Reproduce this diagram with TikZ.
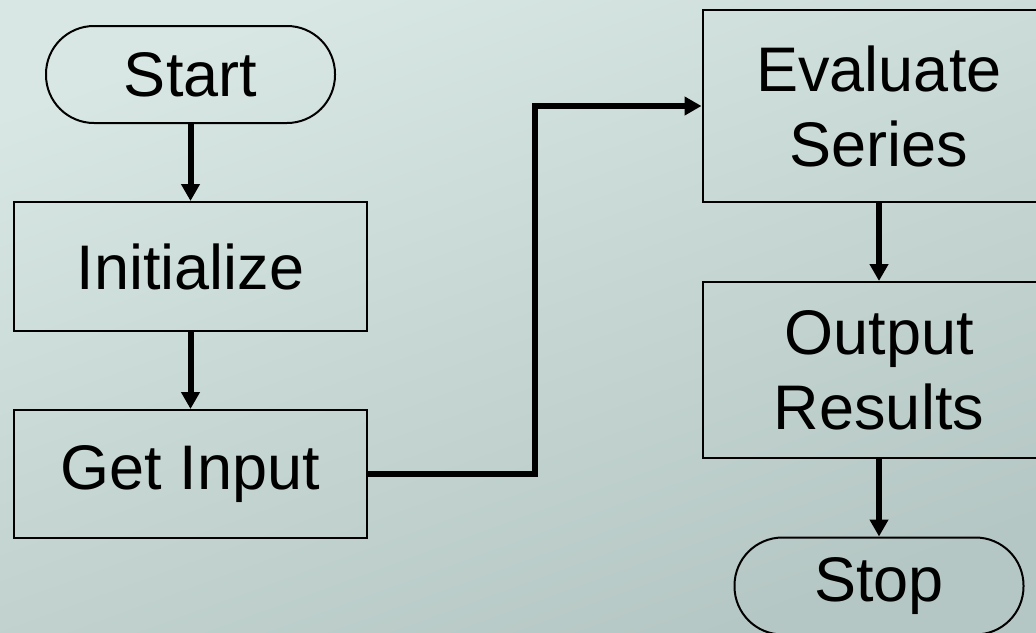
\documentclass[tikz,border=0pt]{standalone}
\usepackage{fontspec}
\setmainfont{Liberation Sans}
\usepackage{xcolor}
\usepackage{tikz}
\usetikzlibrary{arrows.meta,positioning}

\definecolor{bgtop}{RGB}{216,231,227}
\definecolor{bgbot}{RGB}{181,199,196}

\tikzset{
  stepbox/.style={draw=black, line width=1pt, minimum width=176.5pt, align=center,
    font=\fontsize{31.5}{37.5}\selectfont},
  termbox/.style={stepbox, minimum width=144.5pt, minimum height=48.5pt, rounded corners=24pt},
  flow/.style={line width=3pt, -{Triangle[length=8.5pt,width=9pt]}}
}

\begin{document}
\begin{tikzpicture}[x=0.5pt, y=-0.5pt]

% Background
\shade[shading=axis, top color=bgtop, bottom color=bgbot, shading angle=20]
  (0,0) rectangle (1036,632);
\useasboundingbox (0,0) rectangle (1036,632);

% Left column
\node[termbox] (start) at (190.5,74.5) {Start};
\node[stepbox, minimum height=64.5pt] (init) at (190.5,266.5) {Initialize};
\node[stepbox, minimum height=64pt] (getin) at (190.5,474) {Get Input};

% Right column
\node[stepbox, minimum height=96pt] (eval) at (879,106) {Evaluate\\Series};
\node[stepbox, minimum height=88pt] (output) at (879,370) {Output\\Results};
\node[termbox] (stop) at (879,586) {Stop};

% Connectors
\draw[flow] (start) -- (init);
\draw[flow] (init) -- (getin);
\coordinate (jog) at (535,474);
\draw[flow] (getin.east) -- (jog) |- (eval.west);
\draw[flow] (eval) -- (output);
\draw[flow] (output) -- (stop);

\end{tikzpicture}
\end{document}
